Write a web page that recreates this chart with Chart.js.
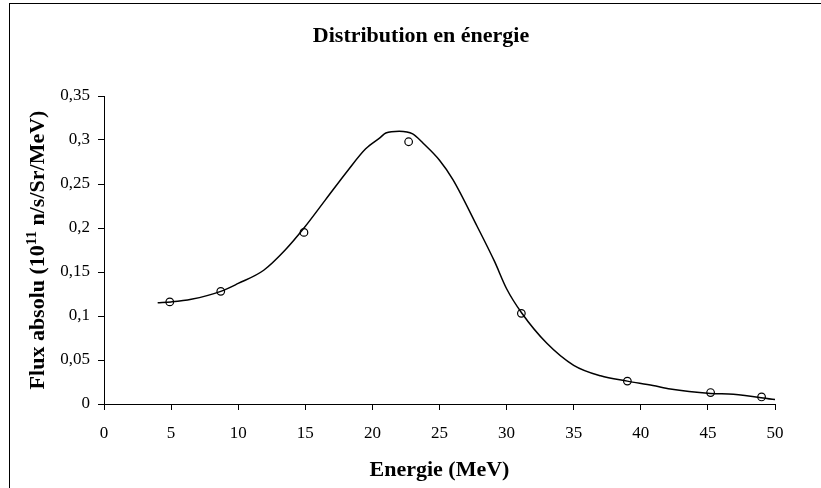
<!DOCTYPE html>
<html>
<head>
<meta charset="utf-8">
<script src="https://cdn.jsdelivr.net/npm/chart.js@4/dist/chart.umd.min.js"></script>
<style>
  body { margin: 0; background: #fff; }
  canvas { display: block; }
</style>
</head>
<body>
<canvas id="fluxChart" width="821" height="488"></canvas>
<script>
// mesures (points)
const energieMesure = [4.9, 8.7, 14.9, 22.7, 31.1, 39.0, 45.2, 49.0];
const fluxMesure = [0.116, 0.128, 0.195, 0.298, 0.103, 0.026, 0.013, 0.008];

// courbe calculee
const energieCourbe = [4.0, 5.0, 6.5, 8.7, 10.0, 11.9, 13.5, 14.9, 16.5, 18.2, 19.5, 20.6, 21.0, 22.0, 23.0, 23.8, 25.0, 26.0, 27.8, 29.1, 30.0, 31.1, 33.0, 35.0, 37.0, 39.0, 40.9, 42.2, 45.2, 46.9, 50.0];
const fluxCourbe = [0.115, 0.116, 0.119, 0.128, 0.137, 0.152, 0.175, 0.200, 0.232, 0.266, 0.290, 0.303, 0.308, 0.310, 0.307, 0.296, 0.277, 0.255, 0.202, 0.162, 0.131, 0.104, 0.069, 0.044, 0.032, 0.026, 0.021, 0.017, 0.012, 0.011, 0.005];

const titre = 'Distribution en énergie';
// titre axe y : texte, exposant, suite
const titreY = ['Flux absolu (10', '11', ' n/s/Sr/MeV)'];
const serif = '"Liberation Serif", "Times New Roman", serif';

const toXY = (xs, ys) => xs.map((x, i) => ({ x: x, y: ys[i] }));

const decoration = {
  id: 'decoration',
  afterDraw(chart) {
    const c = chart.ctx;
    c.save();
    c.strokeStyle = '#000';
    c.lineWidth = 1;
    c.strokeRect(9.5, 3.5, 900, 600);
    c.fillStyle = '#000';
    c.font = 'bold 22px ' + serif;
    c.textAlign = 'center';
    c.textBaseline = 'middle';
    c.fillText(titre, 421, 36);

    // titre y avec exposant
    const big = 'bold 22px ' + serif, small = 'bold 15px ' + serif;
    c.font = big;
    const w0 = c.measureText(titreY[0]).width;
    const w2 = c.measureText(titreY[2]).width;
    c.font = small;
    const w1 = c.measureText(titreY[1]).width;
    const total = w0 + w1 + w2;
    c.translate(44, (chart.chartArea.top + chart.chartArea.bottom) / 2);
    c.rotate(-Math.PI / 2);
    c.textAlign = 'left';
    c.textBaseline = 'alphabetic';
    let x = -total / 2;
    c.font = big;
    c.fillText(titreY[0], x, 0);
    x += w0;
    c.font = small;
    c.fillText(titreY[1], x, -8);
    x += w1;
    c.font = big;
    c.fillText(titreY[2], x, 0);
    c.restore();
  }
};

new Chart(document.getElementById('fluxChart'), {
  type: 'scatter',
  data: {
    datasets: [{
      label: 'courbe',
      data: toXY(energieCourbe, fluxCourbe),
      showLine: true,
      borderColor: '#000',
      borderWidth: 1.5,
      pointRadius: 0,
      cubicInterpolationMode: 'monotone'
    }, {
      label: 'mesures',
      data: toXY(energieMesure, fluxMesure),
      showLine: false,
      borderColor: '#000',
      backgroundColor: 'rgba(255,255,255,0)',
      borderWidth: 1.2,
      pointRadius: 3.8
    }]
  },
  options: {
    responsive: false,
    animation: false,
    layout: { padding: { left: 9, right: 46, top: 96, bottom: 0 } },
    plugins: {
      legend: { display: false },
      tooltip: { enabled: false }
    },
    scales: {
      x: {
        type: 'linear',
        min: 0, max: 50,
        afterFit(scale) { scale.height = 84; },
        ticks: { stepSize: 5, color: '#000', padding: 13, font: { family: serif, size: 17 } },
        grid: { drawOnChartArea: false, color: '#000', tickLength: 6 },
        border: { color: '#000' },
        title: {
          display: true, text: 'Energie (MeV)', color: '#000',
          font: { family: serif, size: 22, weight: 'bold' },
          padding: { top: 0, bottom: 4 }
        }
      },
      y: {
        min: 0, max: 0.35,
        afterFit(scale) { scale.width = 95; },
        ticks: {
          stepSize: 0.05, color: '#000', padding: 8,
          font: { family: serif, size: 17 },
          callback: v => String(+v.toFixed(2)).replace('.', ',')
        },
        grid: { drawOnChartArea: false, color: '#000', tickLength: 6 },
        border: { color: '#000' }
      }
    }
  },
  plugins: [decoration]
});
</script>
</body>
</html>
